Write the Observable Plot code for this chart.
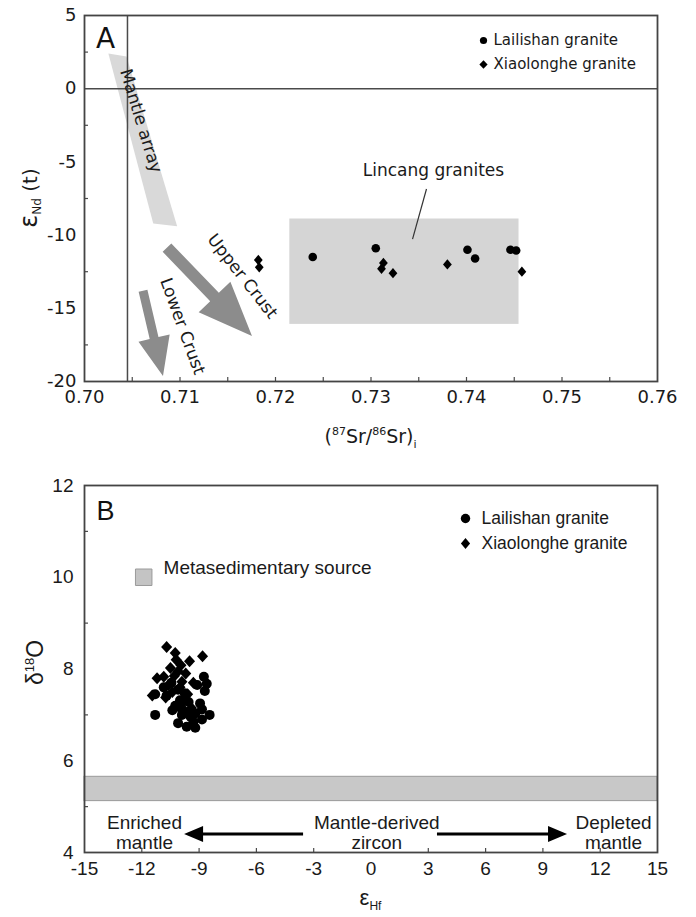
<!DOCTYPE html>
<html>
<head>
<meta charset="utf-8">
<script src="https://cdn.jsdelivr.net/npm/d3@7"></script>
<script src="https://cdn.jsdelivr.net/npm/@observablehq/plot@0.6"></script>
<style>
  body { margin: 0; background: #fff; }
  #chart svg { display: block; }
</style>
</head>
<body>
<div id="chart"></div>
<script>
// ================= Panel A data =================
const srTicks = [0.70, 0.71, 0.72, 0.73, 0.74, 0.75, 0.76];
const srInnerTicks = [0.705, 0.71, 0.715, 0.72, 0.725, 0.73, 0.735, 0.74, 0.745, 0.75, 0.755];
const ndTicks = [5, 0, -5, -10, -15, -20];
const ndInnerTicks = [2.5, -2.5, -7.5, -12.5, -17.5];

const lailishanSr = [0.7239, 0.7305, 0.7401, 0.7409, 0.7446, 0.7452];
const lailishanNd = [-11.5, -10.9, -11.0, -11.6, -11.0, -11.05];
const xiaolongheSr = [0.7182, 0.7183, 0.7313, 0.7311, 0.7323, 0.7380, 0.7458];
const xiaolongheNd = [-11.7, -12.2, -11.9, -12.3, -12.6, -12.0, -12.5];

const bulkEarthSr = [0.7045];
const churNd = [0];
const mantleArraySr = [0.7025, 0.7044, 0.7097, 0.7072];
const mantleArrayNd = [2.4, 2.2, -9.4, -9.2];
const lincangSr = [0.7215, 0.7455];
const lincangNd = [-16.1, -8.9];
const lincangLeaderSr = [0.73581, 0.73435];
const lincangLeaderNd = [-6.85, -10.27];

const crustArrowNames = ["Upper Crust", "Lower Crust"];
const crustArrowSr1 = [0.70869, 0.70618];
const crustArrowNd1 = [-10.89, -13.84];
const crustArrowSr2 = [0.71759, 0.70827];
const crustArrowNd2 = [-16.92, -19.66];

const labelsA = ["Mantle array", "Upper Crust", "Lower Crust", "Lincang granites"];
const labelsASr = [0.70590, 0.71655, 0.71026, 0.73654];
const labelsANd = [-2.2, -12.81, -16.23, -5.62];
const labelsARotate = [73, 52, 70, 0];

const seriesNames = ["Lailishan granite", "Xiaolonghe granite"];

// ================= Panel B data =================
const hfTicks = [-15, -12, -9, -6, -3, 0, 3, 6, 9, 12, 15];
const hfInnerTicks = [-12, -9, -6, -3, 3, 6, 9, 12];
const oTicks = [12, 10, 8, 6, 4];
const oInnerTicks = [11, 9, 7, 5];

const lailishanHf = [-8.75, -8.6, -8.7, -9.1, -10.85, -10.45, -11.3, -10.7, -10.1, -9.75, -10.0, -9.55, -10.25, -9.9,
  -8.95, -8.85, -11.3, -9.55, -9.2, -8.45, -8.85, -10.1, -9.65, -9.2, -9.45, -9.9, -10.4, -9.3];
const lailishanO = [7.83, 7.68, 7.52, 7.65, 7.6, 7.7, 7.45, 7.42, 7.55, 7.47, 7.32, 7.28, 7.2, 7.13,
  7.25, 7.12, 7.0, 7.07, 7.03, 7.0, 6.9, 6.82, 6.74, 6.72, 6.96, 7.0, 7.1, 6.85];
const xiaolongheHf = [-10.7, -10.25, -10.2, -9.95, -9.5, -8.82, -10.5, -10.1, -9.7, -10.85, -11.2, -10.3, -9.9,
  -10.6, -10.0, -9.3, -11.45, -10.4, -9.6, -10.75, -9.8, -10.15, -9.4];
const xiaolongheO = [8.48, 8.35, 8.2, 8.08, 8.17, 8.28, 8.02, 7.95, 7.9, 7.83, 7.8, 7.85, 7.72,
  7.65, 7.6, 7.7, 7.42, 7.5, 7.45, 7.38, 7.3, 7.2, 7.15];

const mantleZirconO = [5.12, 5.65];
const metasedLegendHf = [-11.9];
const metasedLegendO = [10.0];
const metasedLabel = ["Metasedimentary source"];
const metasedLabelHf = [-10.86];
const metasedLabelO = [10.2];

const zirconTexts = ["Enriched\nmantle", "Mantle-derived\nzircon", "Depleted\nmantle"];
const zirconTextHf = [-11.86, 0.3, 12.7];
const zirconTextO = [4.43, 4.43, 4.43];
const zirconArrowHf1 = [-3.53, 3.48];
const zirconArrowHf2 = [-9.76, 10.29];
const zirconArrowO = [4.39, 4.39];

// ================= helpers =================
const diamondSymbol = (wf) => ({
  draw(context, size) {
    const h = Math.sqrt(size / Math.PI) * 1.2;
    const w = h * wf;
    context.moveTo(0, -h);
    context.lineTo(w, 0);
    context.lineTo(0, h);
    context.lineTo(-w, 0);
    context.closePath();
  }
});

function arrowPolygons(x1s, y1s, x2s, y2s, shafts, headWs, headLs, fill) {
  return (index, scales) => {
    const g = d3.create("svg:g");
    x1s.forEach((_, i) => {
      const ax = scales.x(x1s[i]), ay = scales.y(y1s[i]);
      const bx = scales.x(x2s[i]), by = scales.y(y2s[i]);
      const L = Math.hypot(bx - ax, by - ay);
      const ux = (bx - ax) / L, uy = (by - ay) / L, nx = -uy, ny = ux;
      const s = shafts[i] / 2, hw = headWs[i] / 2;
      const cx = bx - ux * headLs[i], cy = by - uy * headLs[i];
      const pts = [
        [ax + nx * s, ay + ny * s], [cx + nx * s, cy + ny * s], [cx + nx * hw, cy + ny * hw],
        [bx, by],
        [cx - nx * hw, cy - ny * hw], [cx - nx * s, cy - ny * s], [ax - nx * s, ay - ny * s]
      ];
      g.append("path").attr("d", "M" + pts.map(p => p.join(",")).join("L") + "Z").attr("fill", fill);
    });
    return g.node();
  };
}

function richText(spans, place, rotate, family) {
  return (index, scales, values, dims) => {
    const [x, y] = place(dims);
    const t = d3.create("svg:text")
      .attr("transform", `translate(${x},${y}) rotate(${rotate})`)
      .attr("text-anchor", "middle")
      .attr("font-family", family)
      .attr("fill", "#1a1a1a");
    for (const s of spans) {
      t.append("tspan").attr("font-size", s.size).attr("dy", s.dy || 0).text(s.text);
    }
    return t.node();
  };
}

const zip = (xs, ys, extra = {}) => xs.map((x, i) => {
  const o = {x, y: ys[i]};
  for (const k in extra) o[k] = extra[k][i];
  return o;
});

// ================= Panel A =================
const fontA = "DejaVu Sans, sans-serif";
const frameWA = 696 - 84 - 39, frameHA = 460 - 15 - 79;

const plotA = Plot.plot({
  width: 696,
  height: 460,
  marginLeft: 84,
  marginRight: 39,
  marginTop: 15,
  marginBottom: 79,
  style: {fontFamily: fontA, fontSize: "18px", color: "#1a1a1a", background: "#fff"},
  x: {domain: [0.70, 0.76], ticks: srTicks, tickFormat: d => d.toFixed(2), tickSize: 0, tickPadding: 9, label: null},
  y: {domain: [-20, 5], ticks: ndTicks, tickFormat: d => String(d), tickSize: 0, tickPadding: 8, label: null},
  marks: [
    Plot.rect([0], {x1: () => lincangSr[0], x2: () => lincangSr[1], y1: () => lincangNd[0], y2: () => lincangNd[1], fill: "#d5d5d5"}),
    Plot.line(zip(mantleArraySr, mantleArrayNd), {x: "x", y: "y", fill: "#d9d9d9", stroke: "none", curve: "linear-closed"}),
    Plot.ruleX(bulkEarthSr, {x: d => d, stroke: "#4a4a4a", strokeWidth: 1.5}),
    Plot.ruleY(churNd, {y: d => d, stroke: "#4a4a4a", strokeWidth: 1.5}),
    arrowPolygons(crustArrowSr1, crustArrowNd1, crustArrowSr2, crustArrowNd2, [12, 9], [44, 32], [54, 39], "#8c8c8c"),
    Plot.link([0], {x1: () => lincangLeaderSr[0], y1: () => lincangLeaderNd[0], x2: () => lincangLeaderSr[1], y2: () => lincangLeaderNd[1], stroke: "#333", strokeWidth: 1.2}),
    Plot.text(zip(labelsASr, labelsANd, {label: labelsA, rotate: labelsARotate}), {
      x: "x", y: "y", text: "label", rotate: "rotate", fontSize: 17, fill: "#1a1a1a", textAnchor: "middle", lineAnchor: "middle"
    }),
    Plot.dot(zip(lailishanSr, lailishanNd), {x: "x", y: "y", r: 4.3, fill: "#000", stroke: "none"}),
    Plot.dot(zip(xiaolongheSr, xiaolongheNd), {x: "x", y: "y", r: 4.3, fill: "#000", stroke: "none", symbol: diamondSymbol(0.85)}),
    Plot.tickX(srInnerTicks, {x: d => d, insetTop: frameHA - 4, stroke: "#4a4a4a", strokeWidth: 1.2}),
    Plot.tickY(ndInnerTicks, {y: d => d, insetRight: frameWA - 4, stroke: "#4a4a4a", strokeWidth: 1.2}),
    Plot.frame({stroke: "#444", strokeWidth: 1.8}),
    // legend
    Plot.dot([seriesNames[0]], {frameAnchor: "top-right", dx: -174, dy: 25, r: 3.6, fill: "#000"}),
    Plot.dot([seriesNames[1]], {frameAnchor: "top-right", dx: -174, dy: 49, r: 3.6, fill: "#000", symbol: diamondSymbol(0.95)}),
    Plot.text([seriesNames[0]], {frameAnchor: "top-right", dx: -164, dy: 25, text: d => d, textAnchor: "start", lineAnchor: "middle", fontSize: 15, fill: "#1a1a1a"}),
    Plot.text([seriesNames[1]], {frameAnchor: "top-right", dx: -164, dy: 49, text: d => d, textAnchor: "start", lineAnchor: "middle", fontSize: 15, fill: "#1a1a1a"}),
    Plot.text(["A"], {frameAnchor: "top-left", dx: 21, dy: 24, text: d => d, fontSize: 28, textAnchor: "middle", lineAnchor: "middle", fill: "#111"}),
    // axis titles
    richText([
      {text: "(", size: 19}, {text: "87", size: 11, dy: -8}, {text: "Sr/", size: 19, dy: 8},
      {text: "86", size: 11, dy: -8}, {text: "Sr)", size: 19, dy: 8}, {text: "i", size: 11, dy: 5}
    ], d => [(d.marginLeft + d.width - d.marginRight) / 2, d.height - 17], 0, fontA),
    richText([
      {text: "ε", size: 24}, {text: "Nd", size: 12, dy: 4}, {text: " (t)", size: 20, dy: -4}
    ], d => [d.marginLeft - 47, (d.marginTop + d.height - d.marginBottom) / 2], -90, fontA)
  ]
});

// ================= Panel B =================
const fontB = "Liberation Sans, Arial, sans-serif";
const frameWB = 696 - 84 - 39, frameHB = 457 - 25 - 65;

const plotB = Plot.plot({
  width: 696,
  height: 457,
  marginLeft: 84,
  marginRight: 39,
  marginTop: 25,
  marginBottom: 65,
  style: {fontFamily: fontB, fontSize: "19px", color: "#1a1a1a", background: "#fff"},
  x: {domain: [-15, 15], ticks: hfTicks, tickFormat: d => String(d), tickSize: 0, tickPadding: 9, label: null},
  y: {domain: [4, 12], ticks: oTicks, tickFormat: d => String(d), tickSize: 0, tickPadding: 11, label: null},
  marks: [
    Plot.rect([0], {x1: () => -15, x2: () => 15, y1: () => mantleZirconO[0], y2: () => mantleZirconO[1], fill: "#c8c8c8", stroke: "#9a9a9a", strokeWidth: 1}),
    Plot.dot(zip(metasedLegendHf, metasedLegendO), {x: "x", y: "y", symbol: "square", r: 9.3, fill: "#c4c4c4", stroke: "#9a9a9a", strokeWidth: 1}),
    Plot.text(zip(metasedLabelHf, metasedLabelO, {label: metasedLabel}), {x: "x", y: "y", text: "label", textAnchor: "start", lineAnchor: "middle", fontSize: 19, fill: "#1a1a1a"}),
    Plot.dot(zip(lailishanHf, lailishanO), {x: "x", y: "y", r: 5, fill: "#000", stroke: "none"}),
    Plot.dot(zip(xiaolongheHf, xiaolongheO), {x: "x", y: "y", r: 5, fill: "#000", stroke: "none", symbol: diamondSymbol(0.92)}),
    Plot.text(zip(zirconTextHf, zirconTextO, {label: zirconTexts}), {x: "x", y: "y", text: "label", textAnchor: "middle", lineAnchor: "middle", lineHeight: 1.05, fontSize: 19, fill: "#1a1a1a"}),
    arrowPolygons(zirconArrowHf1, zirconArrowO, zirconArrowHf2, zirconArrowO, [3, 3], [16, 16], [19, 19], "#000"),
    Plot.tickX(hfInnerTicks, {x: d => d, insetTop: frameHB - 4, stroke: "#4a4a4a", strokeWidth: 1.2}),
    Plot.tickY(oInnerTicks, {y: d => d, insetRight: frameWB - 4, stroke: "#4a4a4a", strokeWidth: 1.2}),
    Plot.frame({stroke: "#444", strokeWidth: 1.8}),
    // legend
    Plot.dot([seriesNames[0]], {frameAnchor: "top-right", dx: -192, dy: 33, r: 4.7, fill: "#000"}),
    Plot.dot([seriesNames[1]], {frameAnchor: "top-right", dx: -192, dy: 58, r: 4.5, fill: "#000", symbol: diamondSymbol(0.85)}),
    Plot.text([seriesNames[0]], {frameAnchor: "top-right", dx: -176, dy: 33, text: d => d, textAnchor: "start", lineAnchor: "middle", fontSize: 17.5, fill: "#1a1a1a"}),
    Plot.text([seriesNames[1]], {frameAnchor: "top-right", dx: -176, dy: 58, text: d => d, textAnchor: "start", lineAnchor: "middle", fontSize: 17.5, fill: "#1a1a1a"}),
    Plot.text(["B"], {frameAnchor: "top-left", dx: 21, dy: 26, text: d => d, fontSize: 27, textAnchor: "middle", lineAnchor: "middle", fill: "#111"}),
    // axis titles
    richText([
      {text: "ε", size: 22}, {text: "Hf", size: 12, dy: 5}
    ], d => [(d.marginLeft + d.width - d.marginRight) / 2, d.height - 12], 0, fontB),
    richText([
      {text: "δ", size: 23}, {text: "18", size: 13, dy: -9}, {text: "O", size: 23, dy: 9}
    ], d => [d.marginLeft - 41, (d.marginTop + d.height - d.marginBottom) / 2 - 6], -90, fontB)
  ]
});

const root = document.getElementById("chart");
root.appendChild(plotA);
root.appendChild(plotB);
</script>
</body>
</html>
